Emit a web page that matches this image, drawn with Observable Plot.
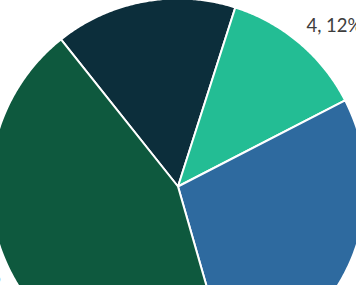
<!DOCTYPE html>
<html>
<head>
<meta charset="utf-8">
<script src="https://cdn.jsdelivr.net/npm/d3@7"></script>
<script src="https://cdn.jsdelivr.net/npm/@observablehq/plot@0.6"></script>
<style>
  html, body { margin: 0; padding: 0; background: #fff; overflow: hidden; }
</style>
</head>
<body>
<div id="chart"></div>
<script>
// Slice values, clockwise, and their fills
const values = [5, 4, 9, 14];
const colors = ["#0c2e3b", "#23bd94", "#2e6a9f", "#0e593e"];
const startDeg = -38.5; // first slice begins this many degrees before 12 o'clock

// Layout
const W = 356, H = 285;
const R = 188;              // pie radius in px
const cx = 177.5, cy = 186; // pie centre in px
const labelR = 1.09;        // label distance, in radii

const total = d3.sum(values);
const a0 = startDeg * Math.PI / 180;
const arcs = d3.pie().sort(null).startAngle(a0).endAngle(a0 + 2 * Math.PI)(values);

// Each slice as a closed outline: centre -> arc -> centre (unit radius, y up)
const slicePts = [];
arcs.forEach((s, i) => {
  const span = s.endAngle - s.startAngle;
  const n = Math.max(2, Math.ceil(span / (Math.PI / 360)));
  slicePts.push({i, x: 0, y: 0, fill: colors[i]});
  for (let k = 0; k <= n; k++) {
    const a = s.startAngle + span * k / n;
    slicePts.push({i, x: Math.sin(a), y: Math.cos(a), fill: colors[i]});
  }
  slicePts.push({i, x: 0, y: 0, fill: colors[i]});
});

// Value labels just outside each slice
const labels = arcs.map((s, i) => {
  const mid = (s.startAngle + s.endAngle) / 2;
  return {
    x: labelR * Math.sin(mid),
    y: labelR * Math.cos(mid),
    text: `${values[i]}, ${Math.floor(values[i] / total * 100)}%`
  };
});

const textStyle = {x: "x", y: "y", text: "text", fontSize: 18.5, fill: "#3d3d3d", clip: true};

const chart = Plot.plot({
  width: W,
  height: H,
  margin: 0,
  style: {fontFamily: "Lato, 'DejaVu Sans', sans-serif", background: "white"},
  x: {domain: [-cx / R, (W - cx) / R], axis: null},
  y: {domain: [-(H - cy) / R, cy / R], axis: null},
  marks: [
    Plot.line(slicePts, {
      x: "x", y: "y", z: "i", fill: "fill",
      stroke: "white", strokeWidth: 2, strokeLinejoin: "round", clip: true
    }),
    Plot.text(labels.filter(d => d.x >= 0), {...textStyle, textAnchor: "start", dx: -4, dy: -4}),
    Plot.text(labels.filter(d => d.x < 0), {...textStyle, textAnchor: "end", dx: 5, dy: -3})
  ]
});

document.getElementById("chart").appendChild(chart);
</script>
</body>
</html>
